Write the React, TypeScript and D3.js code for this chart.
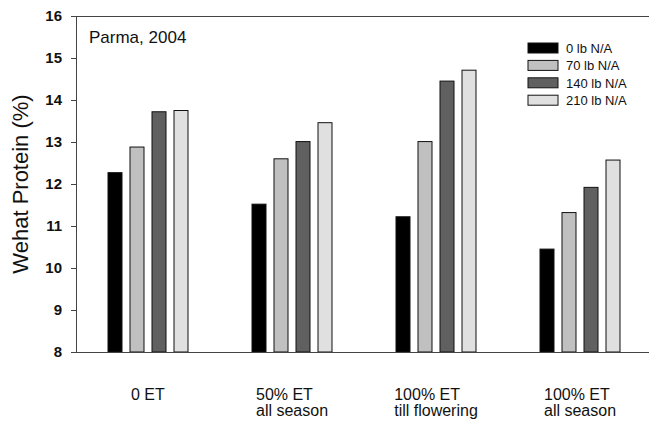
import React, { useEffect, useRef } from "react";
import * as d3 from "d3";

// treatments on the x axis (each label can have two lines)
const treatments = ["0 ET", "50% ET\nall season", "100% ET\ntill flowering", "100% ET\nall season"];

// nitrogen rates (legend)
const rates = ["0 lb N/A", "70 lb N/A", "140 lb N/A", "210 lb N/A"];

// protein values (%) per rate, one value per treatment
const n0 = [12.27, 11.52, 11.22, 10.45];
const n70 = [12.88, 12.6, 13.01, 11.32];
const n140 = [13.72, 13.01, 14.45, 11.92];
const n210 = [13.75, 13.46, 14.71, 12.57];

const yTicks = [8, 9, 10, 11, 12, 13, 14, 15, 16];

const colors = ["#000000", "#c0c0c0", "#606060", "#e0e0e0"];
const FONT = "'Liberation Sans', Arial, Helvetica, sans-serif";

const App = () => {
  const ref = useRef<SVGSVGElement>(null);

  useEffect(() => {
    const H = 425;
    const margin = { top: 16, right: 0, bottom: 73, left: 76 };
    const x0 = margin.left,
      x1 = 651,
      yTop = margin.top,
      yBottom = H - margin.bottom;

    const svg = d3.select(ref.current);
    svg.selectAll("*").remove();

    const series = [n0, n70, n140, n210];

    // scales
    const x = d3.scaleBand<string>().domain(treatments).range([x0, x0 + 576]).padding(0);
    const xInner = d3
      .scaleBand<string>()
      .domain(rates)
      .range([32, 112])
      .paddingInner(8 / 22)
      .paddingOuter(0);
    const y = d3.scaleLinear().domain([8, 16]).range([yBottom, yTop]);

    // bars
    series.forEach((vals, si) => {
      svg
        .append("g")
        .selectAll("rect")
        .data(vals)
        .enter()
        .append("rect")
        .attr("x", (d, i) => (x(treatments[i]) as number) + (xInner(rates[si]) as number))
        .attr("y", (d) => y(d))
        .attr("width", xInner.bandwidth())
        .attr("height", (d) => yBottom - y(d))
        .attr("fill", colors[si])
        .attr("stroke", "#111")
        .attr("stroke-width", 1);
    });

    // frame: top and right border, bottom line
    const frame = svg.append("g").attr("stroke", "#444").attr("stroke-width", 1).attr("shape-rendering", "crispEdges");
    frame.append("line").attr("x1", x0).attr("x2", x1).attr("y1", yTop).attr("y2", yTop);
    frame.append("line").attr("x1", x1).attr("x2", x1).attr("y1", yTop).attr("y2", yBottom);
    frame.append("line").attr("x1", x0).attr("x2", x1).attr("y1", yBottom).attr("y2", yBottom);

    // left axis
    const yAxis = svg
      .append("g")
      .attr("transform", "translate(" + x0 + ",0)")
      .call(d3.axisLeft(y).tickValues(yTicks).tickSize(5).tickPadding(9).tickSizeOuter(0).tickFormat(d3.format("d")));
    yAxis.select(".domain").attr("stroke", "#444");
    yAxis.selectAll(".tick line").attr("stroke", "#444");
    yAxis
      .selectAll("text")
      .attr("font-family", FONT)
      .attr("font-size", 15)
      .attr("font-weight", "bold")
      .attr("fill", "#111");

    // right axis, inner ticks only
    const rAxis = svg
      .append("g")
      .attr("transform", "translate(" + x1 + ",0)")
      .call(d3.axisLeft(y).tickValues(yTicks.slice(1, -1)).tickSize(-4).tickSizeOuter(0).tickFormat(() => ""));
    rAxis.select(".domain").remove();
    rAxis.selectAll(".tick line").attr("stroke", "#444");

    // y title
    svg
      .append("text")
      .attr("transform", "translate(28," + (yTop + yBottom) / 2 + ") rotate(-90)")
      .attr("text-anchor", "middle")
      .attr("font-family", FONT)
      .attr("font-size", 22)
      .attr("fill", "#111")
      .text("Wehat Protein (%)");

    // site label
    svg
      .append("text")
      .attr("x", 89)
      .attr("y", 43)
      .attr("font-family", FONT)
      .attr("font-size", 17)
      .attr("fill", "#111")
      .text("Parma, 2004");

    // x labels: left aligned lines, block centred on group
    treatments.forEach((t) => {
      const lines = t.split("\n");
      const g = svg.append("g");
      const txt = g
        .append("text")
        .attr("font-family", FONT)
        .attr("font-size", 16)
        .attr("fill", "#111");
      lines.forEach((l, i) => {
        txt
          .append("tspan")
          .attr("x", 0)
          .attr("y", 400 + i * 16)
          .text(l);
      });
      const w = (txt.node() as SVGTextElement).getBBox().width;
      const cx = (x(t) as number) + 72;
      g.attr("transform", "translate(" + (cx - w / 2) + ",0)");
    });

    // legend
    const legend = svg.append("g").attr("transform", "translate(528,43)");
    rates.forEach((r, i) => {
      const row = legend.append("g").attr("transform", "translate(0," + i * 17.4 + ")");
      row
        .append("rect")
        .attr("width", 30)
        .attr("height", 10)
        .attr("fill", colors[i])
        .attr("stroke", "#111")
        .attr("stroke-width", 1);
      row
        .append("text")
        .attr("x", 38)
        .attr("y", 10)
        .attr("font-family", FONT)
        .attr("font-size", 13)
        .attr("fill", "#111")
        .text(r);
    });
  });

  return (
    <svg
      ref={ref}
      width={649}
      height={425}
      style={{ position: "absolute", left: 0, top: 0, background: "#fff" }}
    />
  );
};

export default App;
